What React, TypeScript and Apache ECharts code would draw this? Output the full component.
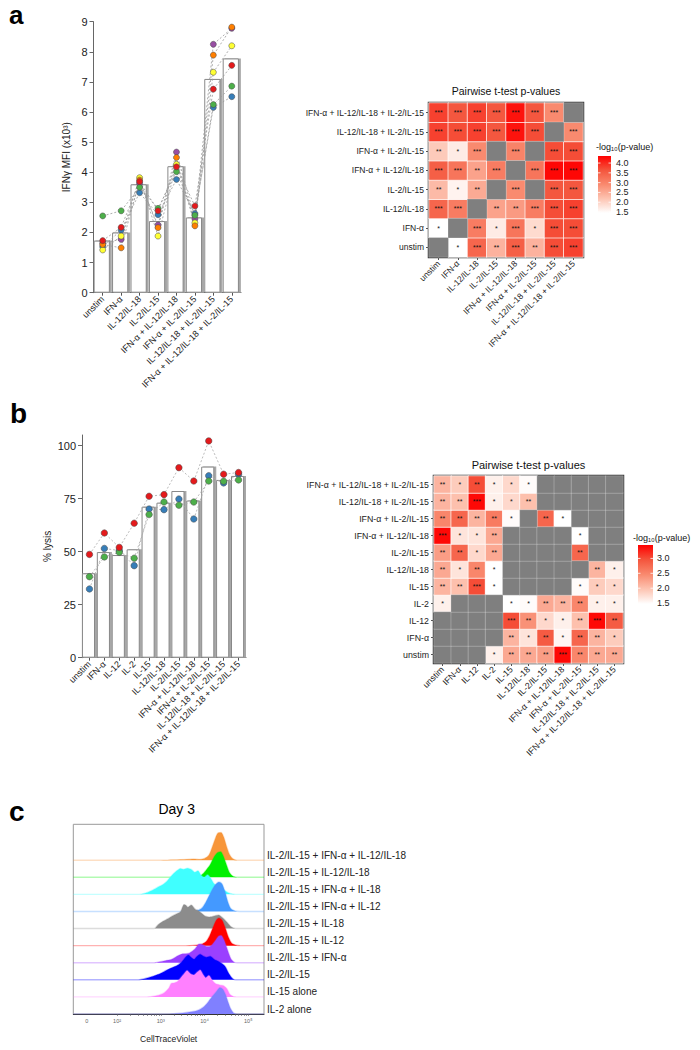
import React, { useEffect, useRef } from 'react';
import * as echarts from 'echarts';

const FONT = 'Liberation Sans, Arial, Helvetica, sans-serif';

// ---------- Panel a: IFN-gamma MFI ----------
const catsA = ['unstim', 'IFN-α', 'IL-12/IL-18', 'IL-2/IL-15', 'IFN-α + IL-12/IL-18', 'IFN-α + IL-2/IL-15', 'IL-12/IL-18 + IL-2/IL-15', 'IFN-α + IL-12/IL-18 + IL-2/IL-15'];
const barA = [1.73, 2.0, 3.6, 2.38, 4.2, 2.5, 7.1, 7.78];
const donorPurpleA = [1.65, 1.77, 3.63, 2.25, 4.67, 2.45, 8.25, 8.78];
const donorBlueA = [1.53, 2.08, 3.32, 2.59, 3.76, 2.63, 6.15, 6.51];
const donorGreenA = [2.55, 2.72, 3.5, 2.8, 4.02, 2.57, 6.25, 6.86];
const donorYellowA = [1.42, 1.88, 3.82, 1.88, 4.26, 2.32, 7.32, 8.2];
const donorOrangeA = [1.6, 1.49, 3.74, 2.16, 4.49, 2.22, 7.89, 8.82];
const donorRedA = [1.73, 2.17, 3.69, 2.72, 4.18, 2.88, 6.76, 7.55];
const donorsA = [
  { values: donorPurpleA, color: '#984EA3' },
  { values: donorBlueA, color: '#377EB8' },
  { values: donorGreenA, color: '#4DAF4A' },
  { values: donorYellowA, color: '#FFFF33' },
  { values: donorOrangeA, color: '#FF7F00' },
  { values: donorRedA, color: '#E41A1C' },
];
const yTicksA = { min: 0, max: 9, interval: 1 };

// heatmap a: rows in category order (bottom -> top), columns left -> right; null = NA
const heatAValues = [
  [null, 1.45, 3.4, 2.4, 3.5, 2.4, 3.7, 3.8],
  [1.45, null, 3.1, 1.7, 3.2, 1.9, 3.7, 3.7],
  [3.4, 3.1, null, 2.6, 2.7, 3.1, 3.7, 3.8],
  [2.3, 1.6, 2.5, null, 2.9, null, 3.6, 3.6],
  [3.5, 3.2, 2.6, 3.1, null, 3.2, 4.3, 4.3],
  [2.1, 1.7, 2.9, null, 3.0, null, 3.7, 3.7],
  [3.8, 3.7, 3.8, 3.6, 4.2, 3.7, null, 2.9],
  [3.8, 3.6, 3.8, 3.6, 4.2, 3.6, 2.9, null],
];
const heatAStars = [
  ['', '*', '***', '**', '***', '**', '***', '***'],
  ['*', '', '***', '*', '***', '*', '***', '***'],
  ['***', '***', '', '**', '**', '***', '***', '***'],
  ['**', '*', '**', '', '***', '', '***', '***'],
  ['***', '***', '**', '***', '', '***', '***', '***'],
  ['**', '*', '***', '', '***', '', '***', '***'],
  ['***', '***', '***', '***', '***', '***', '', '***'],
  ['***', '***', '***', '***', '***', '***', '***', ''],
];
const legendA = { min: 1.45, max: 4.36, ticks: [1.5, 2.0, 2.5, 3.0, 3.5, 4.0] };

// ---------- Panel b: % lysis ----------
const catsB = ['unstim', 'IFN-α', 'IL-12', 'IL-2', 'IL-15', 'IL-12/IL-18', 'IL-2/IL-15', 'IFN-α + IL-12/IL-18', 'IFN-α + IL-2/IL-15', 'IL-12/IL-18 + IL-2/IL-15', 'IFN-α + IL-12/IL-18 + IL-2/IL-15'];
const barB = [39.8, 49.8, 48.4, 51.1, 71.2, 73.1, 78.6, 74.1, 90.1, 83.8, 85.7];
const donorBlueB = [32.4, 51.5, 50.5, 43.4, 70.1, 69.8, 74.8, 65.4, 85.8, 82.4, 86.5];
const donorGreenB = [38.2, 47.5, 49.7, 46.9, 67.5, 73.4, 71.9, 73.4, 83.3, 83.2, 83.8];
const donorRedB = [48.7, 58.8, 52.0, 63.4, 76.1, 76.9, 89.6, 83.3, 102.2, 86.5, 87.3];
const donorsB = [
  { values: donorBlueB, color: '#377EB8' },
  { values: donorGreenB, color: '#4DAF4A' },
  { values: donorRedB, color: '#E41A1C' },
];
const yTicksB = { min: 0, max: 105, interval: 25 };

const heatBValues = [
  [null, null, null, 1.6, 2.2, 2.2, 2.3, 3.4, 2.5, 2.2, 2.2],
  [null, null, null, null, 2.1, 1.7, 2.9, 1.55, 2.8, 2.1, 1.9],
  [null, null, null, null, 3.0, 2.4, 1.8, 1.6, 2.0, 3.4, 2.9],
  [1.6, null, null, null, 1.47, 1.5, 2.2, 2.1, 2.5, 1.6, 1.6],
  [2.1, 2.0, 3.0, 1.47, null, null, null, null, 1.5, 1.9, 1.8],
  [2.2, 1.7, 2.5, 1.47, null, null, null, null, null, 2.1, 1.6],
  [2.3, 2.8, 1.8, 2.2, null, null, null, null, 2.8, null, null],
  [3.4, 1.7, 1.7, 2.2, null, null, null, null, 1.47, null, null],
  [2.5, 2.8, 2.1, 2.6, 1.5, null, 2.8, 1.47, null, null, null],
  [2.1, 2.0, 3.4, 1.6, 1.8, 2.0, null, null, null, null, null],
  [2.1, 1.9, 3.0, 1.6, 1.8, 1.5, null, null, null, null, null],
];
const heatBStars = [
  ['', '', '', '*', '**', '**', '**', '***', '**', '**', '**'],
  ['', '', '', '', '**', '*', '**', '*', '**', '**', '*'],
  ['', '', '', '', '***', '**', '*', '*', '**', '***', '**'],
  ['*', '', '', '', '*', '*', '**', '**', '**', '*', '*'],
  ['**', '**', '***', '*', '', '', '', '', '*', '*', '*'],
  ['**', '*', '**', '*', '', '', '', '', '', '**', '*'],
  ['**', '**', '*', '**', '', '', '', '', '**', '', ''],
  ['***', '*', '*', '**', '', '', '', '', '*', '', ''],
  ['**', '**', '**', '**', '*', '', '**', '*', '', '', ''],
  ['**', '**', '***', '*', '*', '**', '', '', '', '', ''],
  ['**', '*', '**', '*', '*', '*', '', '', '', '', ''],
];
const legendB = { min: 1.47, max: 3.45, ticks: [1.5, 2.0, 2.5, 3.0] };

// ---------- Panel c: CellTraceViolet histograms (x = log10 intensity, y = relative height in row units) ----------
const ridgeNames = ['IL-2/IL-15 + IFN-α + IL-12/IL-18', 'IL-2/IL-15 + IL-12/IL-18', 'IL-2/IL-15 + IFN-α + IL-18', 'IL-2/IL-15 + IFN-α + IL-12', 'IL-2/IL-15 + IL-18', 'IL-2/IL-15 + IL-12', 'IL-2/IL-15 + IFN-α', 'IL-2/IL-15', 'IL-15 alone', 'IL-2 alone'];
const ridgeColors = ['#F7963A', '#00F000', '#40FFFF', '#4499FF', '#8C8C8C', '#FF0000', '#9A40FF', '#0000FF', '#FF80FF', '#8080FF'];
const histOrange = [[3.0, 0], [3.3, 0.02], [3.6, 0.05], [3.75, 0.07], [3.9, 0.05], [4.0, 0.1], [4.1, 0.3], [4.18, 0.8], [4.25, 1.3], [4.31, 1.6], [4.38, 1.62], [4.44, 1.35], [4.5, 0.85], [4.57, 0.35], [4.65, 0.08], [4.75, 0]];
const histGreen = [[3.7, 0], [3.88, 0.05], [3.97, 0.22], [4.03, 0.4], [4.12, 0.7], [4.22, 1.2], [4.3, 1.45], [4.37, 1.5], [4.43, 1.25], [4.5, 0.75], [4.57, 0.28], [4.66, 0.04], [4.78, 0]];
const histCyan = [[2.5, 0], [2.62, 0.05], [2.72, 0.14], [2.82, 0.26], [2.95, 0.45], [3.05, 0.58], [3.15, 0.8], [3.25, 1.1], [3.35, 1.35], [3.45, 1.52], [3.53, 1.47], [3.6, 1.53], [3.7, 1.46], [3.78, 1.3], [3.85, 1.38], [3.92, 1.12], [3.99, 1.0], [4.07, 1.15], [4.14, 0.95], [4.22, 0.62], [4.32, 0.45], [4.42, 0.3], [4.52, 0.13], [4.62, 0.03], [4.72, 0]];
const histBlue = [[3.6, 0], [3.8, 0.04], [3.93, 0.18], [4.02, 0.5], [4.1, 0.9], [4.18, 1.3], [4.26, 1.6], [4.33, 1.72], [4.4, 1.62], [4.47, 1.15], [4.53, 0.6], [4.6, 0.18], [4.7, 0.03], [4.8, 0]];
const histGray = [[2.85, 0], [2.93, 0.2], [3.05, 0.42], [3.15, 0.56], [3.3, 0.78], [3.45, 0.98], [3.53, 1.4], [3.58, 1.35], [3.62, 1.25], [3.7, 1.38], [3.78, 1.15], [3.85, 1.05], [3.92, 0.92], [4.02, 0.72], [4.12, 0.68], [4.2, 0.72], [4.32, 0.8], [4.42, 0.62], [4.52, 0.35], [4.6, 0.12], [4.68, 0.02], [4.78, 0]];
const histRed = [[3.5, 0], [3.8, 0.03], [3.95, 0.1], [4.04, 0.25], [4.12, 0.6], [4.2, 1.1], [4.27, 1.5], [4.33, 1.62], [4.4, 1.5], [4.48, 1.0], [4.55, 0.48], [4.63, 0.12], [4.73, 0.02], [4.82, 0]];
const histPurple = [[2.85, 0], [2.95, 0.04], [3.1, 0.12], [3.25, 0.2], [3.4, 0.42], [3.5, 0.52], [3.65, 0.56], [3.78, 0.8], [3.88, 1.1], [3.96, 1.05], [4.05, 0.95], [4.15, 1.0], [4.25, 1.3], [4.32, 1.55], [4.38, 1.6], [4.45, 1.3], [4.52, 0.8], [4.6, 0.25], [4.68, 0.03], [4.75, 0]];
const histDarkBlue = [[2.45, 0], [2.6, 0.05], [2.75, 0.15], [2.9, 0.28], [3.0, 0.38], [3.12, 0.55], [3.25, 0.7], [3.38, 0.85], [3.48, 1.05], [3.56, 1.3], [3.63, 1.45], [3.7, 1.3], [3.76, 1.2], [3.83, 1.38], [3.9, 1.5], [3.97, 1.4], [4.05, 1.32], [4.13, 1.38], [4.22, 1.2], [4.3, 1.1], [4.4, 0.95], [4.48, 0.75], [4.56, 0.35], [4.64, 0.08], [4.72, 0]];
const histPink = [[2.65, 0], [2.8, 0.03], [2.95, 0.1], [3.08, 0.25], [3.18, 0.5], [3.24, 0.8], [3.3, 0.82], [3.38, 0.9], [3.48, 1.2], [3.56, 1.45], [3.6, 1.55], [3.68, 1.35], [3.75, 1.28], [3.83, 1.45], [3.9, 1.58], [3.97, 1.3], [4.03, 1.12], [4.1, 1.25], [4.17, 1.0], [4.25, 0.78], [4.35, 0.7], [4.44, 0.65], [4.52, 0.45], [4.58, 0.15], [4.66, 0.02], [4.72, 0]];
const histIL2 = [[3.1, 0], [3.3, 0.02], [3.5, 0.06], [3.7, 0.13], [3.85, 0.22], [3.97, 0.4], [4.05, 0.6], [4.13, 0.88], [4.2, 1.1], [4.28, 1.35], [4.35, 1.55], [4.42, 1.45], [4.48, 1.15], [4.54, 0.7], [4.6, 0.3], [4.67, 0.05], [4.75, 0]];
const ridgeHists = [histOrange, histGreen, histCyan, histBlue, histGray, histRed, histPurple, histDarkBlue, histPink, histIL2];
const ridgeX = { min: 1.0, max: 5.36 };
const ridgeY = { min: 0, max: 11.1 };
const ridgeTickValues = [1.31, 2, 3, 4, 5];
const ridgeTickLabels = ['0', '10²', '10³', '10⁴', '10⁵'];

const HEAT_COLORS = ['#ffffff', '#fdc4b2', '#f98a6f', '#f4553d', '#ff0000'];
const NA_COLOR = '#7f7f7f';

function heatData(values: (number | null)[][], stars: string[][]) {
  const out: any[] = [];
  values.forEach((row, y) =>
    row.forEach((v, x) => {
      if (v != null) out.push({ value: [x, y, v], stars: stars[y][x] });
    })
  );
  return out;
}

function naData(values: (number | null)[][]) {
  const out: any[] = [];
  values.forEach((row, y) =>
    row.forEach((v, x) => {
      if (v == null) out.push([x, y, 0]);
    })
  );
  return out;
}

function minorLogTicks(from: number, to: number) {
  const out: number[] = [];
  for (let e = from; e < to; e++) {
    for (let k = 1; k < 10; k++) out.push(e + Math.log10(k));
  }
  out.push(to);
  return out;
}

function txt(text: string, x: number, y: number, o: any = {}) {
  return {
    type: 'text',
    x,
    y,
    z: 100,
    style: {
      text,
      fill: o.fill || '#111',
      fontSize: o.fontSize || 10,
      fontWeight: o.fontWeight || 'normal',
      fontFamily: FONT,
      align: o.align || 'left',
      textAlign: o.align || 'left',
      verticalAlign: o.va || 'middle',
      textVerticalAlign: o.va || 'middle',
    },
  };
}

function legend(cfg: { min: number; max: number; ticks: number[] }, x: number, y: number, w: number, h: number, titleX: number, titleY: number, labelX: number) {
  const stops = HEAT_COLORS.map((c, i) => ({ offset: 1 - i / (HEAT_COLORS.length - 1), color: c }));
  const els: any[] = [
    {
      type: 'rect',
      shape: { x, y, width: w, height: h },
      z: 100,
      style: { fill: new echarts.graphic.LinearGradient(0, 0, 0, 1, stops.slice().reverse()) },
    },
    txt('-log₁₀(p-value)', titleX, titleY, { fontSize: 9 }),
  ];
  cfg.ticks.forEach((t) => {
    const ty = y + h - ((t - cfg.min) / (cfg.max - cfg.min)) * h;
    els.push(txt(t.toFixed(1), labelX, ty, { fontSize: 9, fill: '#222' }));
    els.push({ type: 'line', z: 101, shape: { x1: x, y1: ty, x2: x + 2.5, y2: ty }, style: { stroke: '#fff', lineWidth: 0.8 } });
    els.push({ type: 'line', z: 101, shape: { x1: x + w - 2.5, y1: ty, x2: x + w, y2: ty }, style: { stroke: '#fff', lineWidth: 0.8 } });
  });
  return els;
}

function catAxis(grid: number, data: string[], opts: any = {}) {
  return {
    gridIndex: grid,
    type: 'category',
    data,
    axisLine: { show: opts.line !== false, lineStyle: { color: '#666', width: 1 } },
    axisTick: { show: true, alignWithLabel: true, length: 3, lineStyle: { color: '#555' } },
    axisLabel: { interval: 0, rotate: opts.rotate || 0, fontSize: opts.fontSize || 9, color: '#222', margin: opts.margin || 5, fontFamily: FONT },
    splitLine: { show: false },
  };
}

function barPair(xi: number, data: number[], gap: string) {
  return [
    { type: 'bar', xAxisIndex: xi, yAxisIndex: xi, data, barWidth: '88%', barGap: gap, itemStyle: { color: '#fff', borderColor: '#888', borderWidth: 1 }, z: 1 },
    { type: 'bar', xAxisIndex: xi, yAxisIndex: xi, data, barWidth: '88%', barGap: gap, itemStyle: { color: '#a8a8a8' }, z: 0 },
  ];
}

function buildOption() {
  const series: any[] = [];
  // bar a
  series.push(...barPair(0, barA, '-88%'));
  donorsA.forEach((d) => {
    series.push({ type: 'line', xAxisIndex: 0, yAxisIndex: 0, data: d.values, showSymbol: false, symbol: 'none', lineStyle: { color: '#999', width: 0.8, type: [2, 2] }, z: 2 });
  });
  donorsA.forEach((d) => {
    series.push({ type: 'scatter', xAxisIndex: 0, yAxisIndex: 0, data: d.values, symbolSize: 6, itemStyle: { color: d.color, borderColor: '#444', borderWidth: 0.5, opacity: 1 }, z: 3 });
  });
  const heatAIndex = series.length;
  series.push({
    type: 'heatmap', xAxisIndex: 1, yAxisIndex: 1, data: heatData(heatAValues, heatAStars),
    itemStyle: { borderColor: '#fff', borderWidth: 0.7 },
    label: { show: true, formatter: (p: any) => p.data.stars, fontSize: 7, color: '#111', fontFamily: FONT },
    emphasis: { disabled: true },
  });
  const naAIndex = series.length;
  series.push({
    type: 'heatmap', xAxisIndex: 1, yAxisIndex: 1, data: naData(heatAValues),
    itemStyle: { borderColor: 'rgba(255,255,255,0.35)', borderWidth: 0.7 },
    emphasis: { disabled: true },
  });
  // bar b
  series.push(...barPair(2, barB, '-85%'));
  donorsB.forEach((d) => {
    series.push({ type: 'line', xAxisIndex: 2, yAxisIndex: 2, data: d.values, showSymbol: false, symbol: 'none', lineStyle: { color: '#aaa', width: 0.8, type: [2, 2] }, z: 2 });
  });
  donorsB.forEach((d) => {
    series.push({ type: 'scatter', xAxisIndex: 2, yAxisIndex: 2, data: d.values, symbolSize: 6.5, itemStyle: { color: d.color, borderColor: '#444', borderWidth: 0.5, opacity: 1 }, z: 3 });
  });
  const heatBIndex = series.length;
  series.push({
    type: 'heatmap', xAxisIndex: 3, yAxisIndex: 3, data: heatData(heatBValues, heatBStars),
    itemStyle: { borderColor: '#fff', borderWidth: 0.7 },
    label: { show: true, formatter: (p: any) => p.data.stars, fontSize: 7, color: '#111', fontFamily: FONT },
    emphasis: { disabled: true },
  });
  const naBIndex = series.length;
  series.push({
    type: 'heatmap', xAxisIndex: 3, yAxisIndex: 3, data: naData(heatBValues),
    itemStyle: { borderColor: 'rgba(255,255,255,0.35)', borderWidth: 0.7 },
    emphasis: { disabled: true },
  });
  // ridges
  const n = ridgeHists.length;
  ridgeHists.forEach((h, i) => {
    const base = n - 1 - i;
    const data = [[ridgeX.min, base], ...h.map(([x, v]) => [x, base + v]), [ridgeX.max, base]];
    series.push({
      type: 'line', xAxisIndex: 4, yAxisIndex: 4, data, symbol: 'none', showSymbol: false, smooth: 0.25,
      lineStyle: { color: ridgeColors[i], width: 1.4, opacity: 0.3 },
      areaStyle: { color: ridgeColors[i], opacity: 1, origin: base },
      z: 2 + i * 0.01,
    });
  });

  const graphic: any[] = [
    txt('a', 9, 15, { fontSize: 26, fontWeight: 'bold', fill: '#000' }),
    txt('b', 10, 413, { fontSize: 28, fontWeight: 'bold', fill: '#000' }),
    txt('c', 9, 811, { fontSize: 28, fontWeight: 'bold', fill: '#000' }),
    txt('Pairwise t-test p-values', 506, 91, { fontSize: 10.5, align: 'center' }),
    txt('Pairwise t-test p-values', 528.5, 465, { fontSize: 11, align: 'center' }),
    txt('Day 3', 176.7, 809, { fontSize: 14, align: 'center', fill: '#000' }),
    ...legend(legendA, 598, 156, 13, 57, 596, 147, 616),
    ...legend(legendB, 638, 545, 15, 59, 633, 538, 657),
  ];

  return {
    animation: false,
    backgroundColor: '#fff',
    textStyle: { fontFamily: FONT },
    grid: [
      { left: 93.5, top: 21.7, width: 147.5, height: 271 },
      { left: 429, top: 103, width: 154, height: 154, show: true, borderColor: '#333', borderWidth: 2.5, backgroundColor: 'transparent' },
      { left: 82, top: 435, width: 164, height: 222.7 },
      { left: 434, top: 476, width: 189, height: 187, show: true, borderColor: '#333', borderWidth: 2.5, backgroundColor: 'transparent' },
      { left: 73.3, top: 824.3, width: 190.7, height: 189.7, show: true, borderColor: '#999', borderWidth: 1, backgroundColor: 'transparent' },
    ],
    xAxis: [
      catAxis(0, catsA, { rotate: 45, fontSize: 9 }),
      catAxis(1, catsA, { rotate: 45, fontSize: 8.5, line: false }),
      catAxis(2, catsB, { rotate: 45, fontSize: 9 }),
      catAxis(3, catsB, { rotate: 45, fontSize: 8.8, line: false }),
      {
        gridIndex: 4, type: 'value', min: ridgeX.min, max: ridgeX.max,
        axisLine: { show: true, lineStyle: { color: '#333' } },
        axisTick: { show: true, customValues: minorLogTicks(2, 5), length: 2, lineStyle: { color: '#555', width: 0.6 } },
        axisLabel: { customValues: ridgeTickValues, formatter: (v: number) => ridgeTickLabels[ridgeTickValues.indexOf(v)] ?? '', fontSize: 5.5, color: '#666', margin: 4 },
        splitLine: { show: false },
        name: 'CellTraceViolet', nameLocation: 'middle', nameGap: 20, nameTextStyle: { fontSize: 8.5, color: '#222' },
      },
    ],
    yAxis: [
      {
        gridIndex: 0, type: 'value', ...yTicksA,
        axisLine: { show: true, lineStyle: { color: '#666' } },
        axisTick: { show: true, length: 4, lineStyle: { color: '#666' } },
        axisLabel: { fontSize: 11, color: '#222', margin: 6 },
        splitLine: { show: false },
        name: 'IFNγ MFI (x10³)', nameLocation: 'middle', nameGap: 22, nameTextStyle: { fontSize: 10, color: '#222' },
      },
      { ...catAxis(1, catsA, { fontSize: 8.5, line: false }) },
      {
        gridIndex: 2, type: 'value', ...yTicksB,
        axisLine: { show: true, lineStyle: { color: '#666' } },
        axisTick: { show: true, length: 4, lineStyle: { color: '#666' } },
        axisLabel: { fontSize: 11, color: '#222', margin: 6, showMaxLabel: false },
        splitLine: { show: false },
        name: '% lysis', nameLocation: 'middle', nameGap: 30, nameTextStyle: { fontSize: 10, color: '#222' },
      },
      { ...catAxis(3, catsB, { fontSize: 8.8, line: false }) },
      {
        gridIndex: 4, type: 'value', min: ridgeY.min, max: ridgeY.max, interval: 1, position: 'right',
        axisLine: { show: false }, axisTick: { show: false }, splitLine: { show: false },
        axisLabel: {
          formatter: (v: number) => (Number.isInteger(v) && v < n ? ridgeNames[n - 1 - v] : ''),
          fontSize: 10, color: '#222', margin: 3, verticalAlign: 'bottom', lineHeight: 10, showMaxLabel: false,
        },
      },
    ],
    visualMap: [
      { type: 'continuous', show: false, seriesIndex: heatAIndex, dimension: 2, min: legendA.min, max: legendA.max, inRange: { color: HEAT_COLORS } },
      { type: 'continuous', show: false, seriesIndex: heatBIndex, dimension: 2, min: legendB.min, max: legendB.max, inRange: { color: HEAT_COLORS } },
      { type: 'continuous', show: false, seriesIndex: [naAIndex, naBIndex], dimension: 2, min: 0, max: 1, inRange: { color: [NA_COLOR, NA_COLOR] } },
    ],
    series,
    graphic,
  };
}

export default function App() {
  const ref = useRef<HTMLDivElement>(null);
  useEffect(() => {
    if (!ref.current) return;
    const chart = echarts.init(ref.current, undefined, { renderer: 'svg' });
    chart.setOption(buildOption() as any);
    return () => chart.dispose();
  }, []);
  return <div ref={ref} style={{ position: 'absolute', left: 0, top: 0, width: 700, height: 1050, background: '#fff' }} />;
}
